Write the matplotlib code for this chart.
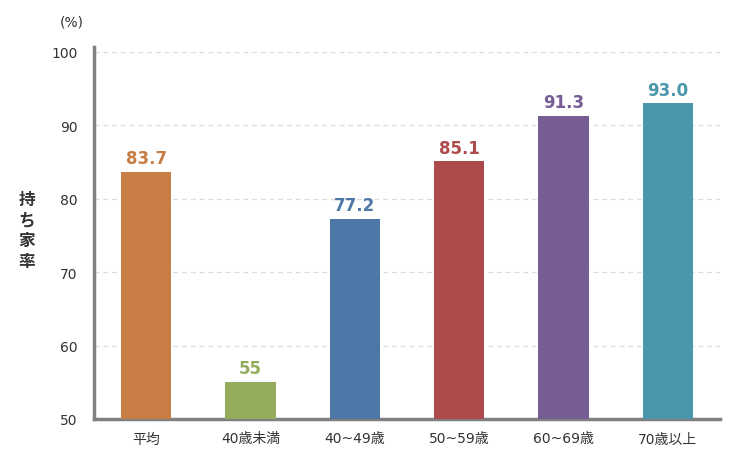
import matplotlib
matplotlib.use("Agg")
import matplotlib.pyplot as plt

plt.rcParams['font.family'] = ['DejaVu Sans', 'Noto Sans CJK JP']

categories = ["平均", "40歳未満", "40~49歳", "50~59歳", "60~69歳", "70歳以上"]
values = [83.7, 55, 77.2, 85.1, 91.3, 93.0]
value_labels = ["83.7", "55", "77.2", "85.1", "91.3", "93.0"]
colors = ["#C87D45", "#93AD5C", "#4C77A7", "#AD4B4C", "#765D93", "#4A96AB"]
yticks = [50, 60, 70, 80, 90, 100]

fig = plt.figure(figsize=(7.4, 4.6), dpi=100)
ax = fig.add_axes([94/740, 1 - 420/460, (720-94)/740, (420-53)/460])

x = list(range(len(categories)))
bars = ax.bar(x, [v - 50 for v in values], bottom=50, width=0.48, color=colors, zorder=3)

for xi, v, lab, c in zip(x, values, value_labels, colors):
    ax.annotate(lab, (xi, v), xytext=(0, 3.5), textcoords="offset points",
                ha="center", va="bottom", fontsize=12, fontweight="bold", color=c)

ax.set_xlim(-0.5, 5.5)
ax.set_ylim(50, 100)
ax.set_yticks(yticks)
ax.set_xticks(x)
ax.set_xticklabels(categories, fontsize=10, color="#333333")
ax.tick_params(axis="y", labelsize=10, labelcolor="#333333", length=0, pad=12)
ax.tick_params(axis="x", length=0, pad=9)

ax.grid(axis="y", color="#DDDDDD", linestyle=(0, (4, 3)), linewidth=0.9, zorder=0)
for s in ["top", "right"]:
    ax.spines[s].set_visible(False)
for s in ["left", "bottom"]:
    ax.spines[s].set_color("#808080")
    ax.spines[s].set_linewidth(2.5)
ax.spines["left"].set_bounds(50, 100.7)

fig.text(72/740, 1 - 22/460, "(%)", ha="center", va="center", fontsize=10, color="#333333")
fig.text(27/740, 1 - 231/460, "持\nち\n家\n率", ha="center", va="center", fontsize=12,
         fontweight="bold", color="#333333", linespacing=1.2)

fig.savefig("out.png", dpi=100)
